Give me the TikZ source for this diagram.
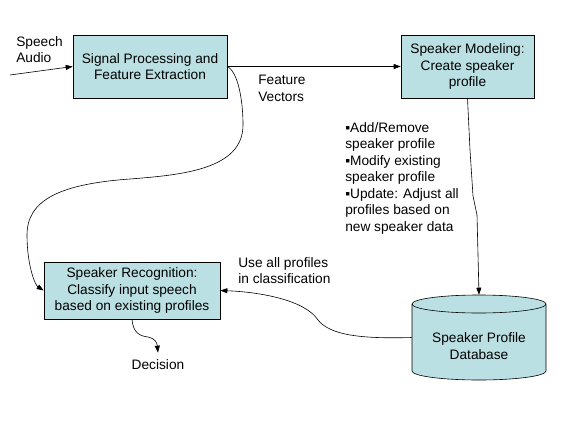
\documentclass[tikz,border=0pt]{standalone}
\usepackage{fontspec}
\setmainfont{Liberation Sans}
\usetikzlibrary{arrows.meta}
\definecolor{boxfill}{RGB}{187,224,227}
\begin{document}
\begin{tikzpicture}[x=1pt,y=-1pt,
  font=\fontsize{13.7}{16.5}\selectfont,
  proc/.style={draw, fill=boxfill, align=center, inner sep=0pt},
  lbl/.style={anchor=north west, align=left, inner sep=0pt},
  arr/.style={-{Triangle[length=7pt,width=5pt]}},
  line width=0.6pt]
\useasboundingbox (0,0) rectangle (564,423);
\node[proc, minimum width=154pt, minimum height=63pt] (sp) at (150,66.5) {Signal Processing and\\Feature Extraction};
\node[proc, minimum width=133pt, minimum height=63pt] (sm) at (467.5,66.5) {Speaker Modeling:\\Create speaker\\profile};
\node[proc, minimum width=176pt, minimum height=57pt] (sr) at (132,290.5) {Speaker Recognition:\\Classify input speech\\based on existing profiles};
% database cylinder
\node[minimum width=134pt, minimum height=85pt, inner sep=0pt] (db) at (479,337.5) {};
\draw[fill=boxfill] (412,304) -- (412,371) arc[start angle=180, end angle=360, x radius=67, y radius=-9] -- (546,304) arc[start angle=0, end angle=180, x radius=67, y radius=-9] -- cycle;
\draw (412,304) arc[start angle=180, end angle=360, x radius=67, y radius=-9];
\node[align=center] (dbt) at (479,346) {Speaker Profile\\Database};
% labels
\node[lbl] (sa) at (16,36) {Speech\\Audio};
\node[lbl] (fv) at (258,75) {Feature\\Vectors};
\node[lbl] (bl) at (345,122) {▪Add/Remove\\speaker profile\\▪Modify existing\\speaker profile\\▪Update: Adjust all\\profiles based on\\new speaker data};
\node[lbl] (ua) at (238,257) {Use all profiles\\in classification};
\node[inner sep=0pt] (dec) at (158,365) {Decision};
% connectors
\coordinate (in) at (10,75);
\draw[arr] (in) -- (sp.west);
\draw[arr] (sp.east) -- (sm.west);
\draw[arr] (sp.east) .. controls (238,72) and (243,100) .. (243,125)
  .. controls (243,170) and (180,175) .. (130,179)
  .. controls (60,184) and (27,200) .. (27,235)
  .. controls (27,265) and (35,285) .. (sr.west);
\draw[arr] (sm.south) -- (470,150) -- (473,196) -- (477,215) -- (db.north);
\draw[arr] (db.west) .. controls (360,339) and (330,335) .. (318,320)
  .. controls (305,300) and (260,292) .. (sr.east);
\draw[arr] (sr.south) .. controls (133,333) and (140,336) .. (148,337)
  .. controls (156,339) and (157,343) .. ([yshift=7pt]dec.north);
\end{tikzpicture}
\end{document}
